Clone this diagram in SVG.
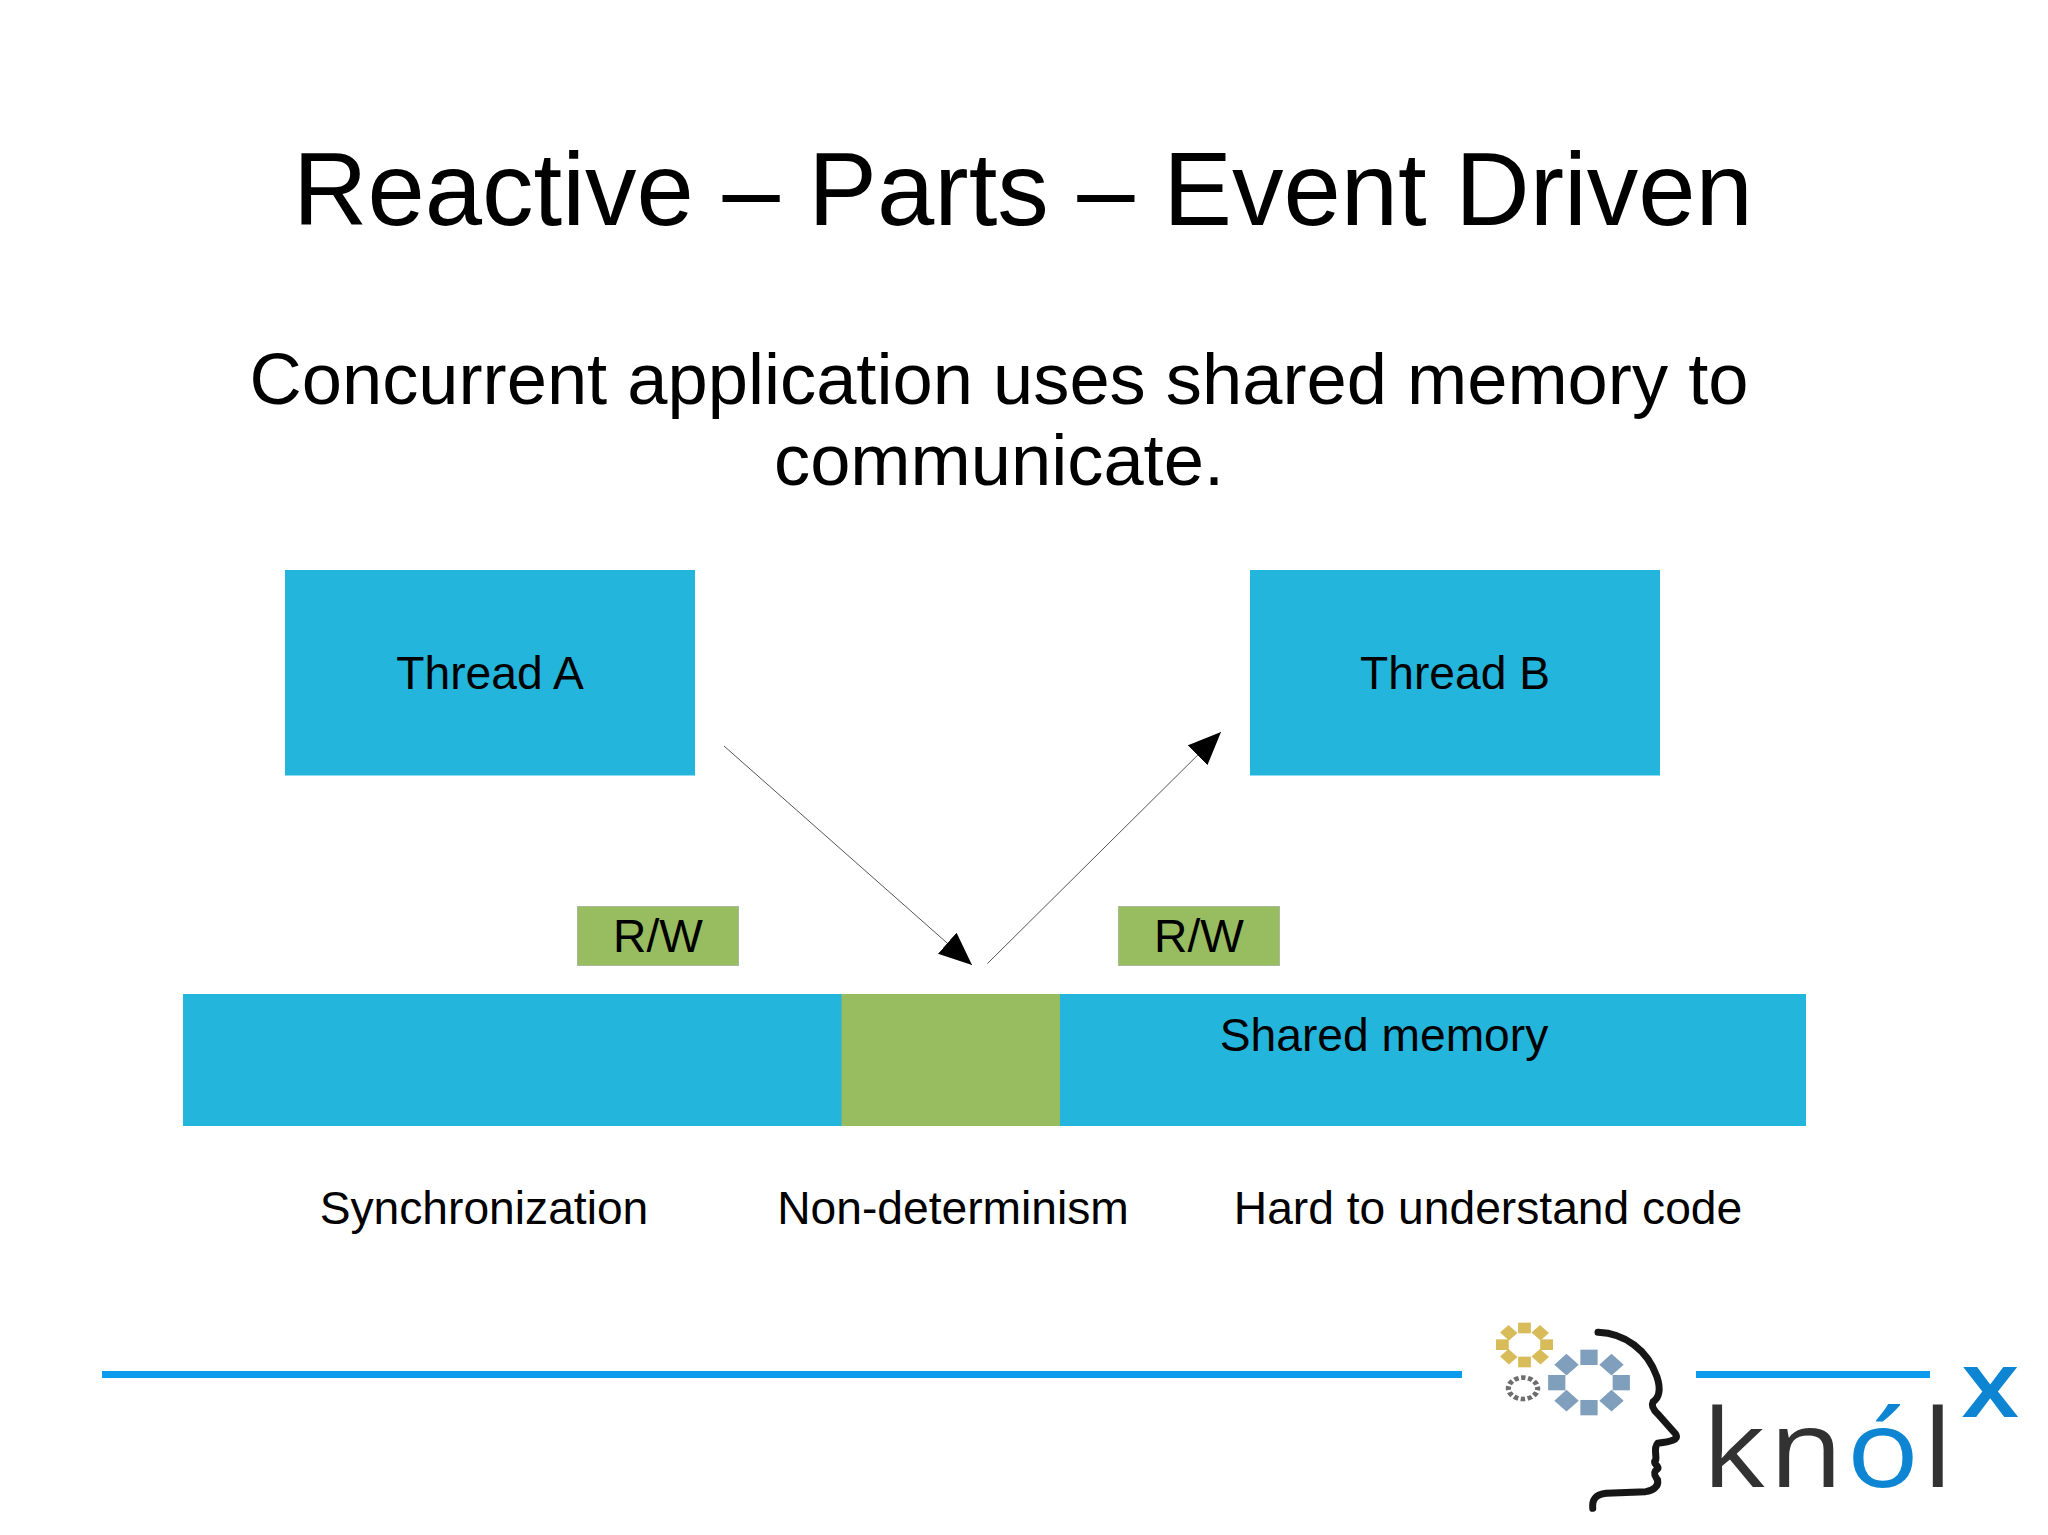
<svg xmlns="http://www.w3.org/2000/svg" width="2048" height="1535" viewBox="0 0 2048 1535">
<style>
text{font-family:"Liberation Sans",Arial,sans-serif;fill:#000}
.t{font-size:46.200px;text-anchor:middle}
.blue{fill:#23b5dc}
.green{fill:#97bd60}
.rule{fill:#0d9bee}
.c{stroke:#555;stroke-width:1;fill:none}
.logo{font-family:"Open Sans",sans-serif}
.sb{fill:#7f9fbc}
.sg{fill:#d8bc5a}
</style>
<defs>
<marker id="ah" markerUnits="userSpaceOnUse" markerWidth="34" markerHeight="30" refX="33" refY="14" orient="auto"><path d="M0 0L33 14L0 28Z" fill="#000"/></marker>
<filter id="soft" x="-5%" y="-5%" width="110%" height="110%"><feGaussianBlur stdDeviation="0.7"/></filter>
<rect id="bs" x="-23" y="-23" width="46" height="46"/>
<rect id="gs" x="-17" y="-16" width="34" height="32"/>
</defs>
<rect width="2048" height="1535" fill="#fff"/>
<text id="title" x="1023" y="225" font-size="103" text-anchor="middle">Reactive – Parts – Event Driven</text>
<g id="subtitle" font-size="72.300" text-anchor="middle"><text x="999" y="404">Concurrent application uses shared memory to</text><text x="999" y="485">communicate.</text></g>
<g id="thread-a"><rect class="blue" x="285" y="570" width="410" height="205.500"/><text class="t" x="490" y="689">Thread A</text></g>
<g id="thread-b"><rect class="blue" x="1250" y="570" width="410" height="205.500"/><text class="t" x="1455" y="689">Thread B</text></g>
<g id="rw-a"><rect class="green" x="577.500" y="906.500" width="161" height="59" stroke="#a9b99a" stroke-width="1"/><text class="t" x="658" y="952">R/W</text></g>
<g id="rw-b"><rect class="green" x="1118.500" y="906.500" width="161" height="59" stroke="#a9b99a" stroke-width="1"/><text class="t" x="1199" y="952">R/W</text></g>
<g id="shared-memory"><rect class="blue" x="183" y="994" width="1623" height="132"/><rect class="green" x="841.500" y="994" width="218.500" height="132"/><text class="t" x="1384" y="1051">Shared memory</text></g>
<g id="connectors"><line class="c" x1="724" y1="746" x2="972" y2="965" marker-end="url(#ah)"/><line class="c" x1="987.500" y1="963.500" x2="1221" y2="732" marker-end="url(#ah)"/></g>
<g id="labels"><text class="t" x="484" y="1224">Synchronization</text><text class="t" x="953" y="1224">Non-determinism</text><text class="t" x="1488" y="1224">Hard to understand code</text></g>
<g id="rules"><rect class="rule" x="102" y="1371" width="1360" height="7"/><rect class="rule" x="1696" y="1371" width="234" height="7"/></g>
<g id="logo" filter="url(#soft)">
<g transform="translate(1460 1300) scale(.375 .3333)" fill="none">
<g class="sg">
<use href="#gs" x="172" y="84"/><use href="#gs" x="172" y="186"/><use href="#gs" x="113" y="134"/><use href="#gs" x="231" y="134"/>
<use href="#gs" transform="translate(130 98) rotate(45)"/><use href="#gs" transform="translate(214 98) rotate(45)"/><use href="#gs" transform="translate(130 170) rotate(45)"/><use href="#gs" transform="translate(214 170) rotate(45)"/>
</g>
<g class="sb">
<use href="#bs" x="344" y="172"/><use href="#bs" x="344" y="323"/><use href="#bs" x="258" y="248"/><use href="#bs" x="430" y="248"/>
<use href="#bs" transform="translate(284 194) rotate(45)"/><use href="#bs" transform="translate(404 194) rotate(45)"/><use href="#bs" transform="translate(284 302) rotate(45)"/><use href="#bs" transform="translate(404 302) rotate(45)"/>
</g>
<ellipse cx="168" cy="265" rx="39" ry="32" stroke="#6e6e6e" stroke-width="14" pathLength="84" stroke-dasharray="4.500 2.500" stroke-dashoffset="2.250"/>
<path vector-effect="non-scaling-stroke" stroke="#161616" stroke-width="7" stroke-linecap="round" stroke-linejoin="round" d="M368 97C440 100 500 150 525 230C537 270 530 295 515 305C508 320 520 335 530 345L575 402C585 420 560 425 527 430C515 445 525 465 522 480C512 490 530 497 528 505C510 520 522 530 527 540C530 560 515 572 495 575L390 580C360 583 352 600 354 625"/>
</g>
<text class="logo" transform="translate(1702 1487) scale(1.12 1)" font-size="108" font-weight="500" letter-spacing="3" style="fill:#333">kn<tspan style="fill:#0a85d2">ó</tspan>l</text>
<text class="logo" transform="translate(1961 1417) scale(1.14 1)" font-size="93" font-weight="600" style="fill:#0a85d2">x</text>
</g>
</svg>
